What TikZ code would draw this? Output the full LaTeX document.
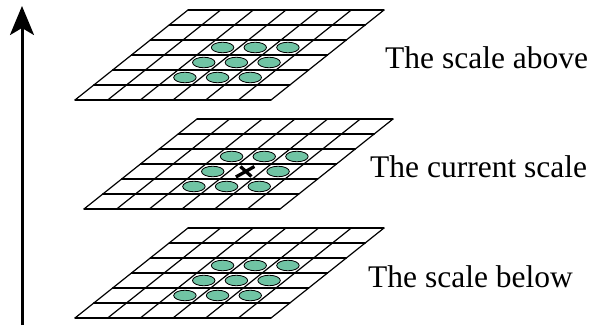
\documentclass[tikz,border=0pt]{standalone}
\usepackage{fontspec}
\setmainfont{Liberation Serif}
\usetikzlibrary{arrows.meta,shapes.geometric}
\definecolor{dotfill}{RGB}{112,196,164}
\tikzset{
  gridline/.style={line width=1.2pt, line cap=round},
  dot/.style={ellipse, draw=black, line width=0.8pt, fill=dotfill,
    minimum width=22.5pt, minimum height=10.5pt, inner sep=0pt},
  scaletext/.style={anchor=base west, inner sep=0pt,
    font=\fontsize{31.5}{36}\selectfont},
  xmark/.style={line width=3.3pt},
  axisarrow/.style={line width=3pt,
    -{Stealth[length=29pt,width=24pt,inset=7pt]}},
  gridframe/.style={x={(32.67pt,0pt)}, y={(18.83pt,15pt)}}
}
\begin{document}
\begin{tikzpicture}[x=1pt,y=1pt]
\useasboundingbox (0,0) rectangle (590,325);
% grids
\foreach \name/\bx/\by in {above/75/225, current/84/116, below/75/7} {
  \begin{scope}[shift={(\bx pt,\by pt)}, gridframe]
    \foreach \k in {0,...,6} {
      \draw[gridline] (\k,0) -- (\k,6);
      \draw[gridline] (0,\k) -- (6,\k);
    }
  \end{scope}
}
% dots, scale above and below
\foreach \name/\bx/\by in {above/75/225, below/75/7} {
  \begin{scope}[shift={(\bx pt,\by pt)}, gridframe]
    \foreach \i in {2,3,4} {
      \foreach \j in {1,2,3} {
        \node[dot] (\name-\i-\j) at (\i+0.5,\j+0.5) {};
      }
    }
  \end{scope}
}
% dots and cross, current scale
\begin{scope}[shift={(84pt,116pt)}, gridframe]
  \foreach \i/\j in {2/1,3/1,4/1,2/2,4/2,2/3,3/3,4/3} {
    \node[dot] (current-\i-\j) at (\i+0.5,\j+0.5) {};
  }
  \coordinate (xc) at (3.5,2.5);
  \draw[xmark] ([shift={(-9.5pt,-5.5pt)}]xc) -- ([shift={(9pt,5pt)}]xc);
  \draw[xmark] ([shift={(-5pt,5pt)}]xc) -- ([shift={(6pt,-5pt)}]xc);
\end{scope}
% axis arrow
\coordinate (abot) at (22,0);
\coordinate (atop) at (22,319);
\draw[axisarrow] (abot) -- (atop);
% labels
\node[scaletext] (tabove) at (385,257) {The scale above};
\node[scaletext] (tcurrent) at (370,148) {The current scale};
\node[scaletext] (tbelow) at (368,38) {The scale below};
\end{tikzpicture}
\end{document}
